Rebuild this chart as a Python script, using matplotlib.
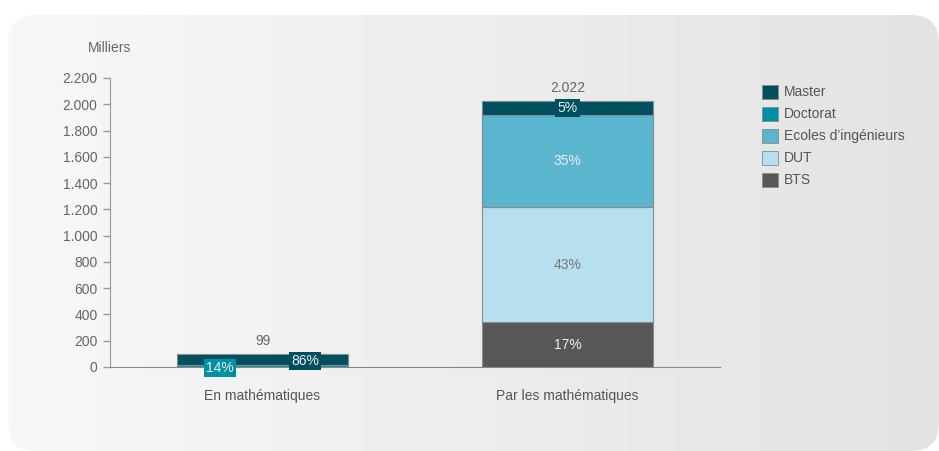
import matplotlib
matplotlib.use("Agg")
import matplotlib.pyplot as plt
import numpy as np
from matplotlib.patches import FancyBboxPatch, Rectangle
from matplotlib.ticker import FuncFormatter

plt.rcParams['font.family'] = ['Liberation Sans', 'DejaVu Sans']

categories = ["En mathématiques", "Par les mathématiques"]
series = ["BTS", "DUT", "Ecoles d’ingénieurs", "Doctorat", "Master"]
colors = {"BTS": "#575757", "DUT": "#b6e0ef", "Ecoles d’ingénieurs": "#5ab5cf",
          "Doctorat": "#0090a4", "Master": "#00505f"}
values = {
    "BTS": [0, 342],
    "DUT": [0, 875],
    "Ecoles d’ingénieurs": [0, 701],
    "Doctorat": [14, 0],
    "Master": [85, 104],
}
legend_order = ["Master", "Doctorat", "Ecoles d’ingénieurs", "DUT", "BTS"]
yticks = [0, 200, 400, 600, 800, 1000, 1200, 1400, 1600, 1800, 2000, 2200]

FS = 10
W, H = 939, 451
fig = plt.figure(figsize=(W / 100, H / 100), dpi=100)
fig.patch.set_facecolor("white")

# background rounded gradient panel
bg = fig.add_axes([0, 0, 1, 1])
bg.set_xlim(0, W)
bg.set_ylim(H, 0)
bg.axis("off")
grad = np.linspace(0, 1, 256)[None, :]
im = bg.imshow(grad, cmap=matplotlib.colors.LinearSegmentedColormap.from_list("g", ["#f8f8f8", "#e3e3e3"]),
               extent=[8, 939, 451, 15], aspect="auto", zorder=0)
panel = FancyBboxPatch((8, 15), 931, 436, boxstyle="round,pad=0,rounding_size=28",
                       transform=bg.transData, facecolor="none", edgecolor="none")
bg.add_patch(panel)
im.set_clip_path(panel)

# main axes
x0, x1 = 110, 720
y0, y1 = 367, 78
ax = fig.add_axes([x0 / W, (H - y0) / H, (x1 - x0) / W, (y0 - y1) / H])
ax.patch.set_alpha(0)
ax.set_xlim(-0.5, 1.5)
ax.set_ylim(0, 2200)

x = np.arange(len(categories))
bw = 0.56
bottom = np.zeros(len(categories))
for s in series:
    v = np.array(values[s], dtype=float)
    ax.bar(x, v, bw, bottom=bottom, color=colors[s], edgecolor="#8a8a8a", linewidth=0.8, zorder=3)
    bottom += v
totals = bottom.copy()

ax.spines["top"].set_visible(False)
ax.spines["right"].set_visible(False)
ax.spines["left"].set_color("#999999")
ax.spines["bottom"].set_color("#888888")
ax.set_yticks(yticks)
ax.yaxis.set_major_formatter(FuncFormatter(lambda v, p: f"{int(v):,}".replace(",", ".")))
ax.tick_params(axis="y", colors="#999999", labelcolor="#666666", labelsize=FS, length=5, width=1, pad=4)
ax.set_xticks([])
for i, c in enumerate(categories):
    ax.text(i, -220, c, ha="center", va="center", fontsize=FS, color="#555555")
ax.text(-0.574, 2430, "Milliers", ha="left", va="center", fontsize=FS, color="#666666")

# totals
for i, t in enumerate(totals):
    ax.text(i, t + 100, f"{int(round(t)):,}".replace(",", "."), ha="center", va="center",
            fontsize=FS, color="#666666")

# percentage labels
bottom = np.zeros(len(categories))
for s in series:
    v = np.array(values[s], dtype=float)
    for i in range(len(categories)):
        if v[i] <= 0:
            continue
        pct = f"{int(round(100 * v[i] / totals[i]))}%"
        cy = bottom[i] + v[i] / 2
        if i == 0:
            dx = -0.14 if s == "Doctorat" else 0.14
            cy = -5 if s == "Doctorat" else 45
            ax.text(i + dx, cy, pct, ha="center", va="center", fontsize=FS, color="#eeeeee", zorder=5,
                    bbox=dict(boxstyle="square,pad=0.15", facecolor=colors[s], edgecolor="none"))
        elif s == "Master":
            ax.text(i, cy, pct, ha="center", va="center", fontsize=FS, color="#eeeeee", zorder=5,
                    bbox=dict(boxstyle="square,pad=0.15", facecolor=colors[s], edgecolor="none"))
        else:
            col = "#777777" if s == "DUT" else "#eeeeee"
            ax.text(i, cy, pct, ha="center", va="center", fontsize=FS, color=col, zorder=5)
    bottom += v

# legend
for k, s in enumerate(legend_order):
    yy = 92 + 22 * k
    bg.add_patch(Rectangle((762, yy - 7), 16, 14, facecolor=colors[s], edgecolor="#8a8a8a", linewidth=0.6))
    bg.text(784, yy, s, ha="left", va="center", fontsize=FS, color="#555555")

fig.savefig("out.png", dpi=100)
